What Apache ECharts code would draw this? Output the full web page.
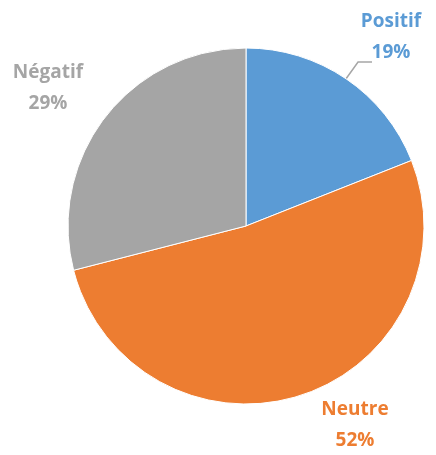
<!DOCTYPE html>
<html><head><meta charset="utf-8">
<script src="https://cdn.jsdelivr.net/npm/echarts@6/dist/echarts.min.js"></script>
<style>html,body{margin:0;padding:0;background:#fff}#c{width:436px;height:455px}</style>
</head><body><div id="c"></div>
<script>
const categories = ['Positif', 'Neutre', 'Négatif'];
const values = [19, 52, 29];
const colors = ['#5B9BD5', '#ED7D31', '#A5A5A5'];
const labelPos = [[391, 37], [355, 425], [48, 88]];

const chart = echarts.init(document.getElementById('c'), null, {renderer: 'canvas'});
chart.setOption({
  animation: false,
  series: [{
    type: 'pie',
    center: [246, 226],
    radius: 178,
    startAngle: 90,
    clockwise: true,
    itemStyle: {borderColor: '#fff', borderWidth: 1},
    label: {
      show: true,
      formatter: p => p.name + '\n' + p.value + '%',
      fontFamily: 'Open Sans',
      fontWeight: 'bold',
      fontSize: 19,
      lineHeight: 31,
      align: 'center',
      overflow: 'none',
      width: 120
    },
    labelLine: {show: false},
    labelLayout: function (params) {
      const i = params.dataIndex;
      const r = {x: labelPos[i][0], y: labelPos[i][1], align: 'center', verticalAlign: 'middle'};
      if (i === 0 && params.labelLinePoints) {
        const p0 = params.labelLinePoints[0];
        r.labelLinePoints = [p0, [p0[0] + 12, 62], [372, 62]];
      }
      return r;
    },
    data: categories.map((n, i) => ({
      name: n,
      value: values[i],
      itemStyle: {color: colors[i]},
      label: {color: colors[i]},
      labelLine: i === 0 ? {show: true, length: 10, length2: 12, lineStyle: {color: '#A6A6A6', width: 1.5}} : {show: false}
    }))
  }]
});
</script></body></html>
